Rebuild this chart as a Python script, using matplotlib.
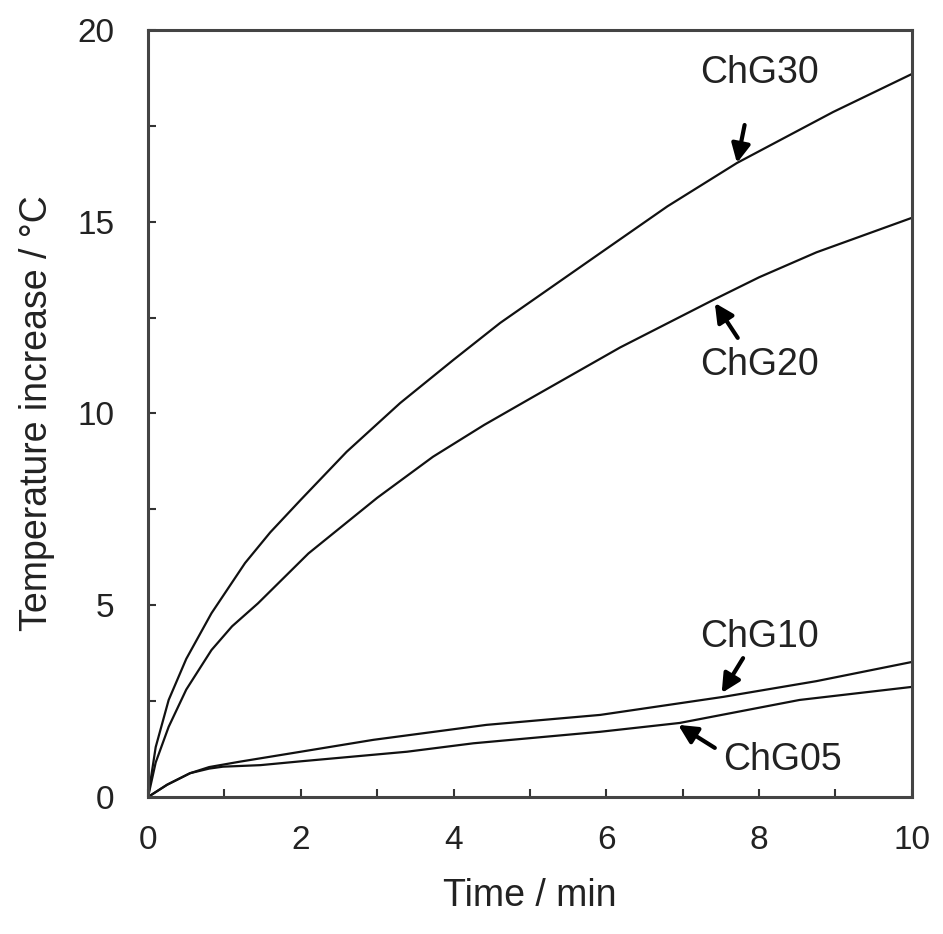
import matplotlib.pyplot as plt
import numpy as np
from matplotlib.ticker import MultipleLocator

plt.rcParams['font.family'] = ['Liberation Sans', 'DejaVu Sans']

# data
t30 = [0, 0.1, 0.27, 0.5, 0.83, 1.27, 1.6, 2.0, 2.6, 3.3, 4.0, 4.61, 5.92, 6.8, 7.71, 8.97, 10]
y30 = [0, 1.3, 2.53, 3.6, 4.79, 6.1, 6.9, 7.75, 9.0, 10.27, 11.4, 12.36, 14.18, 15.4, 16.53, 17.86, 18.85]

t20 = [0, 0.1, 0.27, 0.5, 0.83, 1.1, 1.44, 2.1, 3.0, 3.73, 4.4, 5.04, 6.18, 7.4, 8.0, 8.75, 10]
y20 = [0, 0.9, 1.83, 2.8, 3.83, 4.45, 5.05, 6.35, 7.8, 8.87, 9.7, 10.43, 11.72, 12.96, 13.55, 14.2, 15.1]

t10 = [0, 0.25, 0.55, 0.8, 1.2, 2.0, 2.95, 4.43, 5.92, 7.53, 8.75, 10]
y10 = [0, 0.32, 0.62, 0.78, 0.92, 1.18, 1.49, 1.88, 2.14, 2.61, 3.02, 3.52]

t05 = [0, 0.25, 0.55, 0.8, 0.98, 1.47, 2.0, 3.39, 4.26, 5.92, 6.96, 8.53, 10]
y05 = [0, 0.32, 0.62, 0.74, 0.79, 0.83, 0.93, 1.18, 1.4, 1.7, 1.93, 2.53, 2.87]

labels = ['ChG30', 'ChG20', 'ChG10', 'ChG05']
label_xy = [(8.01, 18.88), (8.01, 11.26), (8.01, 4.17), (8.31, 0.96)]
arrow_tail = [(7.81, 17.52), (7.72, 11.97), (7.79, 3.62), (7.42, 1.28)]
arrow_tip = [(7.71, 16.53), (7.42, 12.88), (7.51, 2.71), (6.94, 1.88)]

fig = plt.figure(figsize=(9.43, 9.34), dpi=100)
ax = fig.add_axes([0.157, 0.1467, 0.81, 0.8213])

for t, y in [(t30, y30), (t20, y20), (t10, y10), (t05, y05)]:
    ax.plot(t, y, color='#111111', lw=1.6, solid_joinstyle='round')

for lab, pos, tail, tip in zip(labels, label_xy, arrow_tail, arrow_tip):
    ax.text(pos[0], pos[1], lab, fontsize=27, ha='center', va='center', color='#222222')
    ax.annotate('', xy=tip, xytext=tail,
                arrowprops=dict(arrowstyle='-|>', color='black', lw=3,
                                mutation_scale=28, shrinkA=0, shrinkB=0))

ax.set_xlim(0, 10)
ax.set_ylim(0, 20)
ax.xaxis.set_major_locator(MultipleLocator(2))
ax.xaxis.set_minor_locator(MultipleLocator(1))
ax.yaxis.set_major_locator(MultipleLocator(5))
ax.yaxis.set_minor_locator(MultipleLocator(2.5))
ax.tick_params(which='both', direction='in', length=6, width=1.5, color='#333333',
               labelsize=24, labelcolor='#222222')
ax.tick_params(axis='x', pad=20)
ax.tick_params(axis='y', pad=24)

for s in ax.spines.values():
    s.set_linewidth(2.2)
    s.set_color('#444444')

ax.set_xlabel('Time / min', fontsize=27, labelpad=16, color='#222222')
ax.set_ylabel('Temperature increase / °C', fontsize=27, labelpad=16, color='#222222')

fig.savefig('out.png', dpi=100)
